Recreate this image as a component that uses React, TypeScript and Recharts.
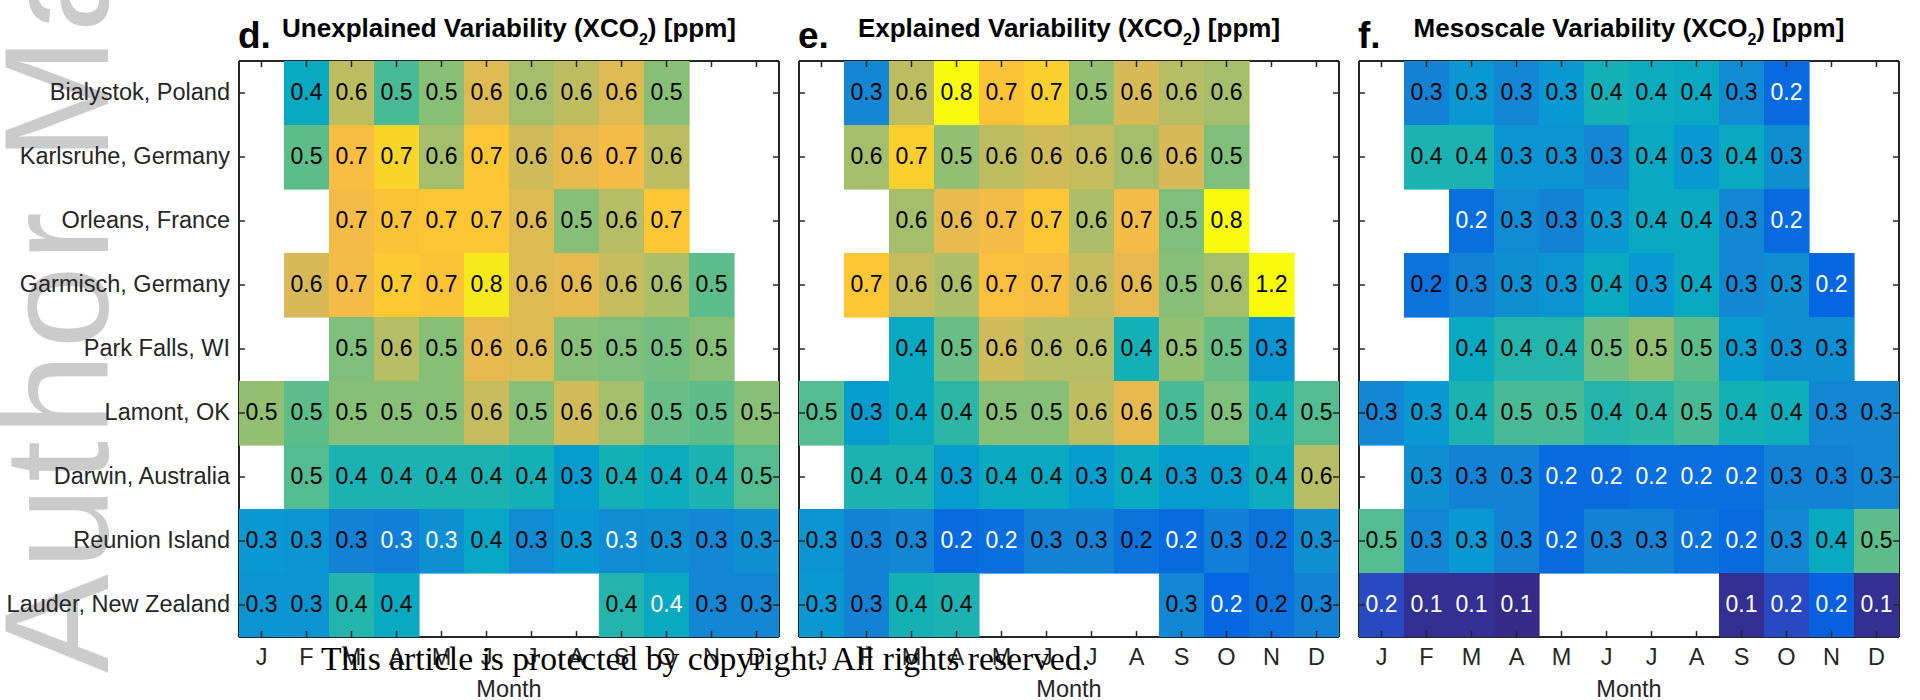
import React from "react";
import { ScatterChart, Scatter, XAxis, YAxis } from "recharts";

const months = ["J", "F", "M", "A", "M", "J", "J", "A", "S", "O", "N", "D"];
const stations = [
  "Bialystok, Poland",
  "Karlsruhe, Germany",
  "Orleans, France",
  "Garmisch, Germany",
  "Park Falls, WI",
  "Lamont, OK",
  "Darwin, Australia",
  "Reunion Island",
  "Lauder, New Zealand",
];

// monthly variability per station [ppm], null = no data (J..D)
const unexplained = [
  [null, 0.38, 0.59, 0.47, 0.53, 0.63, 0.56, 0.59, 0.63, 0.53, null, null],
  [null, 0.49, 0.67, 0.73, 0.56, 0.7, 0.61, 0.64, 0.66, 0.59, null, null],
  [null, null, 0.66, 0.69, 0.7, 0.7, 0.63, 0.53, 0.58, 0.7, null, null],
  [null, 0.62, 0.66, 0.71, 0.69, 0.76, 0.63, 0.64, 0.6, 0.57, 0.49, null],
  [null, null, 0.52, 0.58, 0.53, 0.64, 0.63, 0.53, 0.52, 0.51, 0.53, null],
  [0.54, 0.49, 0.53, 0.53, 0.53, 0.6, 0.53, 0.61, 0.56, 0.5, 0.49, 0.53],
  [null, 0.48, 0.42, 0.42, 0.42, 0.42, 0.41, 0.34, 0.41, 0.39, 0.42, 0.48],
  [0.33, 0.32, 0.28, 0.27, 0.31, 0.37, 0.3, 0.33, 0.3, 0.31, 0.29, 0.31],
  [0.32, 0.32, 0.43, 0.38, null, null, null, null, 0.43, 0.38, 0.29, 0.29],
];

const explained = [
  [null, 0.29, 0.59, 0.78, 0.69, 0.72, 0.54, 0.62, 0.58, 0.56, null, null],
  [null, 0.56, 0.72, 0.54, 0.59, 0.61, 0.6, 0.56, 0.62, 0.52, null, null],
  [null, null, 0.56, 0.64, 0.66, 0.7, 0.57, 0.66, 0.52, 0.79, null, null],
  [null, 0.7, 0.6, 0.57, 0.68, 0.67, 0.6, 0.64, 0.53, 0.56, 1.2, null],
  [null, null, 0.38, 0.5, 0.61, 0.58, 0.58, 0.41, 0.54, 0.5, 0.32, null],
  [0.48, 0.34, 0.38, 0.44, 0.53, 0.53, 0.59, 0.64, 0.47, 0.52, 0.41, 0.48],
  [null, 0.42, 0.42, 0.34, 0.38, 0.38, 0.34, 0.38, 0.34, 0.34, 0.39, 0.58],
  [0.32, 0.28, 0.29, 0.22, 0.23, 0.28, 0.28, 0.24, 0.22, 0.27, 0.24, 0.31],
  [0.33, 0.28, 0.41, 0.42, null, null, null, null, 0.29, 0.21, 0.24, 0.28],
];

const mesoscale = [
  [null, 0.28, 0.33, 0.29, 0.33, 0.41, 0.39, 0.38, 0.3, 0.22, null, null],
  [null, 0.42, 0.42, 0.32, 0.32, 0.29, 0.38, 0.33, 0.38, 0.31, null, null],
  [null, null, 0.23, 0.3, 0.28, 0.33, 0.38, 0.38, 0.29, 0.22, null, null],
  [null, 0.24, 0.28, 0.31, 0.32, 0.38, 0.33, 0.38, 0.29, 0.31, 0.21, null],
  [null, null, 0.38, 0.43, 0.43, 0.51, 0.54, 0.49, 0.34, 0.31, 0.31, null],
  [0.29, 0.33, 0.42, 0.47, 0.47, 0.43, 0.44, 0.47, 0.41, 0.4, 0.29, 0.29],
  [null, 0.31, 0.28, 0.28, 0.22, 0.22, 0.23, 0.23, 0.23, 0.28, 0.28, 0.29],
  [0.48, 0.29, 0.33, 0.28, 0.22, 0.28, 0.28, 0.24, 0.22, 0.29, 0.38, 0.49],
  [0.17, 0.13, 0.13, 0.1, null, null, null, null, 0.13, 0.17, 0.2, 0.13],
];

// [row, month] of cells whose number is printed in white
const unexplainedWhite = [[7, 3], [7, 4], [7, 8], [8, 9]];
const explainedWhite = [[7, 3], [7, 4], [7, 8], [8, 9]];
const mesoscaleWhite = [
  [0, 9], [2, 2], [2, 9], [3, 10],
  [6, 4], [6, 5], [6, 6], [6, 7], [6, 8],
  [7, 4], [7, 7], [7, 8],
  [8, 0], [8, 1], [8, 2], [8, 3], [8, 8], [8, 9], [8, 10], [8, 11],
];

// layout
const FONT = "'Liberation Sans', Arial, Helvetica, sans-serif";
const AXIS = "#262626";
const PLOT_TOP = 61;
const PLOT_W = 540;
const PLOT_H = 576;
const CELL_W = PLOT_W / 12;
const CELL_H = PLOT_H / 9;
const TOP_H = 10;
const RIGHT_W = 10;
const BOTTOM_H = 700 - PLOT_TOP - PLOT_H;

// parula colormap, colour limits
const C_MIN = 0.12;
const C_MAX = 0.78;
const PARULA = [
  [53, 42, 135], [50, 67, 186], [3, 99, 225], [13, 117, 220], [20, 133, 212],
  [9, 152, 209], [6, 167, 198], [21, 177, 180], [56, 185, 158], [101, 190, 134],
  [146, 191, 115], [183, 189, 100], [217, 186, 86], [248, 187, 68], [254, 200, 50],
  [245, 222, 33], [249, 251, 14],
];
const STOP_T = PARULA.map((_, i) => (i === PARULA.length - 1 ? 1 : (i * 4) / 63));

function parula(v: number) {
  const t = Math.max(0, Math.min(1, (v - C_MIN) / (C_MAX - C_MIN)));
  let i = 0;
  while (i < STOP_T.length - 2 && t > STOP_T[i + 1]) i++;
  const f = (t - STOP_T[i]) / (STOP_T[i + 1] - STOP_T[i]);
  const c = PARULA[i].map((a, k) => Math.round(a + (PARULA[i + 1][k] - a) * f));
  return `rgb(${c[0]},${c[1]},${c[2]})`;
}

const renderCell = (props: any) => {
  const { cx, cy, payload } = props;
  if (cx == null || cy == null) return <g />;
  return (
    <g>
      <rect
        x={cx - CELL_W / 2}
        y={cy - CELL_H / 2}
        width={CELL_W + 0.6}
        height={CELL_H + 0.6}
        fill={parula(payload.value)}
      />
      <text
        x={cx}
        y={cy + 7}
        textAnchor="middle"
        fontSize={23}
        fontFamily={FONT}
        fill={payload.white ? "#ffffff" : "#000000"}
      >
        {payload.value.toFixed(1)}
      </text>
    </g>
  );
};

const BottomTick = (props: any) => {
  const { x, y, payload } = props;
  return (
    <g>
      <line x1={x} y1={y} x2={x} y2={y - 6} stroke={AXIS} strokeWidth={1.5} />
      <text x={x} y={y + 28} textAnchor="middle" fontSize={23.5} fontFamily={FONT} fill={AXIS}>
        {months[payload.value - 1]}
      </text>
    </g>
  );
};

const TopTick = (props: any) => {
  const { x, y } = props;
  return <line x1={x} y1={y} x2={x} y2={y + 6} stroke={AXIS} strokeWidth={1.5} />;
};

const RightTick = (props: any) => {
  const { x, y } = props;
  return <line x1={x} y1={y} x2={x - 6} y2={y} stroke={AXIS} strokeWidth={1.5} />;
};

const makeLeftTick = (showNames: boolean) => (props: any) => {
  const { x, y, payload } = props;
  return (
    <g>
      <line x1={x} y1={y} x2={x + 6} y2={y} stroke={AXIS} strokeWidth={1.5} />
      {showNames && (
        <text x={x - 9} y={y + 7} textAnchor="end" fontSize={23.5} fontFamily={FONT} fill={AXIS}>
          {stations[payload.value - 1]}
        </text>
      )}
    </g>
  );
};

const monthTicks = months.map((_, i) => i + 1);
const rowTicks = stations.map((_, i) => i + 1);
const boxLine = { stroke: AXIS, strokeWidth: 2 };

type PanelProps = {
  values: (number | null)[][];
  white: number[][];
  left: number;
  axisW: number;
  showNames: boolean;
};

const Panel = ({ values, white, left, axisW, showNames }: PanelProps) => {
  const points: any[] = [];
  values.forEach((row, r) =>
    row.forEach((v, c) => {
      if (v == null) return;
      points.push({
        month: c + 1,
        row: r + 1,
        value: v,
        white: white.some(([wr, wc]) => wr === r && wc === c),
      });
    })
  );
  return (
    <div style={{ position: "absolute", left, top: 0 }}>
      <ScatterChart
        width={axisW + PLOT_W + RIGHT_W}
        height={700}
        margin={{ top: PLOT_TOP - TOP_H, right: 0, bottom: 0, left: 0 }}
      >
        <Scatter
          data={points}
          xAxisId="b"
          yAxisId="l"
          shape={renderCell}
          isAnimationActive={false}
        />
        <Scatter
          data={points}
          xAxisId="t"
          yAxisId="r"
          shape={() => <g />}
          isAnimationActive={false}
        />
        <XAxis
          xAxisId="b"
          type="number"
          dataKey="month"
          domain={[0.5, 12.5]}
          ticks={monthTicks}
          interval={0}
          allowDataOverflow
          height={BOTTOM_H}
          tickSize={0}
          tickMargin={0}
          tickLine={false}
          axisLine={boxLine}
          tick={BottomTick}
        />
        <XAxis
          xAxisId="t"
          orientation="top"
          type="number"
          dataKey="month"
          domain={[0.5, 12.5]}
          ticks={monthTicks}
          interval={0}
          allowDataOverflow
          height={TOP_H}
          tickSize={0}
          tickMargin={0}
          tickLine={false}
          axisLine={boxLine}
          tick={TopTick}
        />
        <YAxis
          yAxisId="l"
          type="number"
          dataKey="row"
          domain={[0.5, 9.5]}
          reversed
          ticks={rowTicks}
          interval={0}
          allowDataOverflow
          width={axisW}
          tickSize={0}
          tickMargin={0}
          tickLine={false}
          axisLine={boxLine}
          tick={makeLeftTick(showNames)}
        />
        <YAxis
          yAxisId="r"
          orientation="right"
          type="number"
          dataKey="row"
          domain={[0.5, 9.5]}
          reversed
          ticks={rowTicks}
          interval={0}
          allowDataOverflow
          width={RIGHT_W}
          tickSize={0}
          tickMargin={0}
          tickLine={false}
          axisLine={boxLine}
          tick={RightTick}
        />
      </ScatterChart>
    </div>
  );
};

const panels = [
  { letter: "d.", title: "Unexplained Variability", values: unexplained, white: unexplainedWhite, left: 0, axisW: 239, showNames: true },
  { letter: "e.", title: "Explained Variability", values: explained, white: explainedWhite, left: 779, axisW: 20, showNames: false },
  { letter: "f.", title: "Mesoscale Variability", values: mesoscale, white: mesoscaleWhite, left: 1339, axisW: 20, showNames: false },
];

export default function App() {
  return (
    <div
      style={{
        position: "absolute",
        left: 0,
        top: 0,
        width: 1920,
        height: 700,
        background: "#ffffff",
        fontFamily: FONT,
        overflow: "hidden",
      }}
    >
      <svg width={1920} height={700} style={{ position: "absolute", left: 0, top: 0 }}>
        <text
          transform="translate(108,673) rotate(-90)"
          fontSize={148}
          letterSpacing={5}
          fontFamily={FONT}
          fill="#cbcbcb"
        >
          Author Manuscript
        </text>
      </svg>
      {panels.map((p) => (
        <Panel key={p.letter} values={p.values} white={p.white} left={p.left} axisW={p.axisW} showNames={p.showNames} />
      ))}
      <svg
        width={1920}
        height={700}
        style={{ position: "absolute", left: 0, top: 0, pointerEvents: "none" }}
      >
        {panels.map((p) => {
          const plotLeft = p.left + p.axisW;
          const cx = plotLeft + PLOT_W / 2;
          return (
            <g key={p.letter}>
              <text x={plotLeft - 1} y={48} fontSize={37} fontWeight="bold" fontFamily={FONT} fill="#000">
                {p.letter}
              </text>
              <text x={cx} y={37} textAnchor="middle" fontSize={26} fontWeight="bold" fontFamily={FONT} fill="#000">
                {p.title} (XCO
                <tspan fontSize={16} dy={8}>2</tspan>
                <tspan dy={-8}>) [ppm]</tspan>
              </text>
              <text x={cx} y={697} textAnchor="middle" fontSize={23.5} fontFamily={FONT} fill={AXIS}>
                Month
              </text>
            </g>
          );
        })}
        <text
          x={321}
          y={670}
          fontSize={33}
          fontFamily="'Liberation Serif', 'DejaVu Serif', serif"
          fill="#000"
          textLength={769}
          lengthAdjust="spacingAndGlyphs"
        >
          This article is protected by copyright. All rights reserved.
        </text>
      </svg>
    </div>
  );
}
